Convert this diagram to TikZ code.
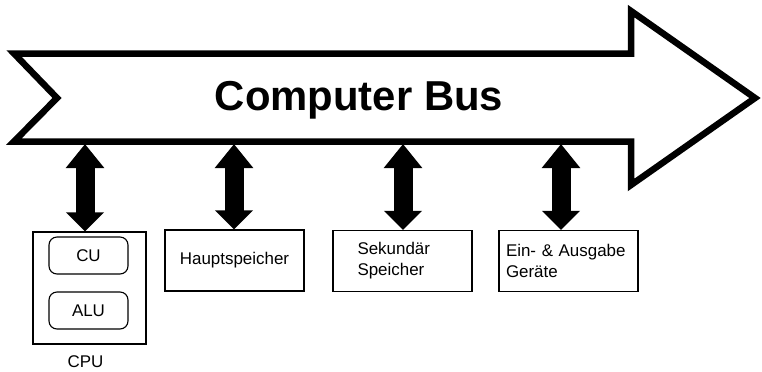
\documentclass[tikz,border=0pt]{standalone}
\usepackage{fontspec}
\setmainfont{Liberation Sans}
\usepackage{tikz}
\usetikzlibrary{positioning,arrows.meta}

\begin{document}
\begin{tikzpicture}[x=1bp,y=-1bp,
    every node/.style={font=\fontsize{17}{21}\selectfont},
    box/.style={draw,line width=1.3bp,minimum width=139bp,minimum height=61bp},
    unitbox/.style={draw,line width=1.1bp,rounded corners=8bp,minimum width=79bp,minimum height=37bp},
    busarrow/.style={line width=19bp,{Triangle[width=37bp,length=24bp]}-{Triangle[width=37bp,length=19bp]}}]
  \useasboundingbox (0,0) rectangle (762,371);
  % the bus itself
  \draw[line width=6.5bp,miter limit=20] (14,53.5) -- (631,53.5) -- (631,11) -- (755,98)
    -- (631,185) -- (631,141.5) -- (14,141.5) -- (57,98) -- cycle;
  \node[anchor=base,font=\fontsize{42}{50}\selectfont\bfseries] (bus) at (359,110) {Computer Bus};
  % units hanging off the bus
  \node[box,minimum width=113bp,minimum height=112bp] (cpu) at (89.5,288) {};
  \node[unitbox] (cu) at (88.5,255.5) {CU};
  \node[unitbox] (alu) at (88.5,310.5) {ALU};
  \node[below=7bp of cpu,xshift=-4bp] (cpulabel) {CPU};
  \node[box] (haupt) at (234.5,260.5) {Hauptspeicher};
  \node[box,text width=90bp,align=left] (sek) at (402.5,261) {\raisebox{3bp}{Sekundär}\\\raisebox{3bp}{Speicher}};
  \node[box,text width=125bp,align=left] (io) at (568.5,261) {Ein- \& Ausgabe\\Geräte};
  % double arrows bus <-> unit
  \foreach \x/\n in {85/cpu,234/haupt,403/sek,561/io} {
    \coordinate (t\n) at (\x,144);
    \draw[busarrow] (t\n) -- (t\n |- \n.north);
  }
\end{tikzpicture}
\end{document}
